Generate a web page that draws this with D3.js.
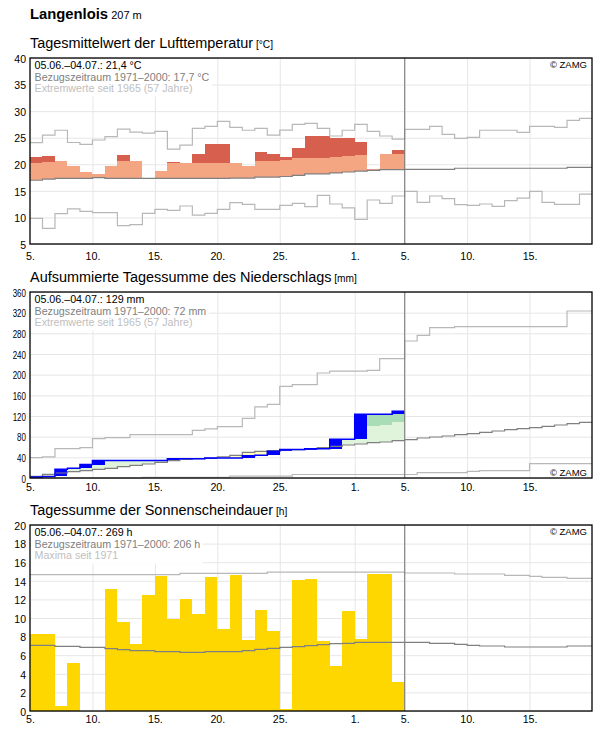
<!DOCTYPE html>
<html><head><meta charset="utf-8">
<script src="https://cdn.jsdelivr.net/npm/d3@7"></script>
<style>
body{margin:0;background:#fff}
svg{display:block}
text{font-family:"Liberation Sans",Arial,Helvetica,sans-serif}
.bars rect{shape-rendering:crispEdges}
</style>
</head><body>
<svg id="c" width="596" height="729"></svg>
<script>
// ---------------- DATA ----------------
const station = "Langenlois";
const altitude = "207 m";
const periodStart = "2021-06-05", periodEnd = "2021-07-20", todayDate = "2021-07-05";
const xTickDates = ["2021-06-05","2021-06-10","2021-06-15","2021-06-20","2021-06-25","2021-07-01","2021-07-05","2021-07-10","2021-07-15"];
const xTickLabels = ["5.","10.","15.","20.","25.","1.","5.","10.","15."];

// Temperature (°C)
const tempTicks = [5,10,15,20,25,30,35,40];
const tempMean = [17.0,17.2,17.35,17.35,17.35,17.5,17.35,17.35,17.35,17.35,17.35,17.35,17.35,17.35,17.35,17.35,17.4,17.4,17.6,17.6,17.7,17.9,18.2,18.2,18.4,18.55,18.7,18.85,19.0,19.0,19.05,19.05,19.05,19.05,19.25,19.25,19.25,19.25,19.25,19.25,19.25,19.25,19.25,19.4,19.4];
const tempMax = [24.06,25.5,26.4,24.1,23.76,24.57,25.2,26.6,26.07,25.85,26.2,22.85,23.6,26.77,27.15,28.08,26.96,26.4,26.75,25.48,26.42,27.5,27.7,26.77,25.32,26.4,27.5,26.2,25.32,24.73,26.58,26.58,27.14,25.64,24.89,25.07,26.4,26.4,26.4,26.02,27.14,27.14,26.96,28.27,28.65];
const tempMin = [9.83,7.95,10.7,11.6,11.15,10.9,10.9,8.45,8.64,10.77,11.5,11.34,12.15,10.45,10.77,11.5,12.77,12.47,11.5,11.5,12.27,12.65,12.03,14.16,12.53,11.78,9.64,13.28,12.65,14.03,14.9,12.84,14.03,13.53,12.4,12.27,12.53,12.09,13.15,13.65,14.9,12.84,12.47,12.47,14.4];
const tempObs = [21.3,21.5,20.7,19.7,18.6,18.2,19.6,21.8,20.7,null,18.8,20.5,20.3,22.0,23.9,23.9,20.3,19.6,22.4,21.9,21.4,23.1,25.4,25.4,25.0,25.0,24.1,19.1,22.0,22.7];
const tempLight = [20.3,20.5,20.7,19.7,18.6,18.2,19.6,20.7,20.7,null,18.8,20.3,20.3,20.3,20.3,20.3,20.3,19.6,20.6,20.7,20.9,21.1,21.2,21.2,21.4,21.6,21.8,19.1,22.0,22.0];

// Precipitation, accumulated (mm)
const precTicks = [0,40,80,120,160,200,240,280,320,360];
const precMean = [3.3,7.2,9.7,12.3,14.2,16.8,18.8,22,24.6,27.1,30.4,33.6,36.2,37.5,38.7,40.7,43.9,49.7,51.7,53,55,55,56.9,58.8,61.3,63.9,65.8,68.5,69.7,72.4,74.3,77.4,79.4,81.3,84,85.9,88.4,91,93.6,95.6,97.5,100,102.6,105.2,107.8];
const precMax = [39.4,40.7,56.9,56.9,58.8,76.2,78.2,78.2,84,84,84,84,84,92,95,99.5,99.5,115.5,137.5,142.6,177.5,180.8,180.8,203.2,207,207,207,208.4,231,231,265.2,276.2,291,291,293,293,293,293,293,293,293,293,293,323.2,323.2];
const precMin = [0,0,0,0,0,0,0,0,0,1.3,1.3,1.3,1.3,1.3,1.3,1.3,3.7,3.7,3.7,3.7,3.7,6.8,6.8,6.8,6.8,6.8,6.8,6.8,6.8,6.8,6.8,10.4,10.4,10.4,10.4,13,14.2,14.2,14.2,14.2,27.8,27.8,27.8,27.8,27.8];
const precObs = [2,3,17,19,26,34,34,34,34,34,34,37.5,37.5,37.5,38.5,38.5,38.5,43.3,43.8,51.7,55,55,56.5,56.5,75,75,123.3,123.3,123.3,129];
const precHigh = [null,null,null,null,null,null,null,null,null,null,null,null,null,null,null,null,null,null,null,null,null,null,null,null,null,null,99,100.6,102.6,107.8];

// Sunshine duration (h)
const sunTicks = [0,2,4,6,8,10,12,14,16,18,20];
const sunMean = [7.06,7.06,6.95,6.95,6.85,6.85,6.7,6.6,6.5,6.5,6.38,6.38,6.3,6.3,6.38,6.38,6.38,6.5,6.62,6.74,6.85,6.93,7.03,7.13,7.24,7.28,7.38,7.38,7.38,7.38,7.38,7.38,7.28,7.28,7.17,7.06,6.99,6.99,6.88,6.88,6.88,6.88,6.88,6.99,6.99];
const sunMax = [14.66,14.66,14.66,14.66,14.66,14.66,14.66,14.66,14.66,14.66,14.66,14.66,14.8,14.8,14.8,14.8,14.8,14.8,14.8,14.93,14.93,14.93,14.93,14.93,14.93,14.93,14.93,14.93,14.93,14.93,14.84,14.84,14.84,14.84,14.73,14.73,14.73,14.73,14.59,14.59,14.48,14.37,14.37,14.27,14.27];
const sunObs = [8.28,8.28,0.54,5.16,0,0,13.12,9.57,7.2,12.47,14.52,9.93,12.04,10.43,14.41,8.82,14.62,7.63,10.86,8.6,0.2,14.09,14.2,7.53,4.87,10.75,7.74,14.77,14.77,3.12];

const titles = [
  ["Tagesmittelwert der Lufttemperatur","[°C]"],
  ["Aufsummierte Tagessumme des Niederschlags","[mm]"],
  ["Tagessumme der Sonnenscheindauer","[h]"]
];
const legends = [
  ["05.06.–04.07.: 21,4 °C","Bezugszeitraum 1971–2000: 17,7 °C","Extremwerte seit 1965 (57 Jahre)"],
  ["05.06.–04.07.: 129 mm","Bezugszeitraum 1971–2000: 72 mm","Extremwerte seit 1965 (57 Jahre)"],
  ["05.06.–04.07.: 269 h","Bezugszeitraum 1971–2000: 206 h","Maxima seit 1971"]
];
const copyright = "© ZAMG";

// ---------------- DRAWING ----------------
const svg = d3.select("#c");
const X0 = 30, X1 = 592;
const parse = d3.utcParse("%Y-%m-%d");
const start = parse(periodStart);
const x = d3.scaleUtc().domain([start, parse(periodEnd)]).range([X0, X1]);
const day = i => d3.utcDay.offset(start, i);
const FONT_S = 10.7;

const C = {grid:"#e6e6e6", mean:"#808080", ext:"#b8b8b8", today:"#808080"};

// header
const hdr = svg.append("text").attr("x", 30).attr("y", 18.5);
hdr.append("tspan").attr("font-weight","bold").attr("font-size",14.8).text(station);
hdr.append("tspan").attr("font-size",11).text(" " + altitude);

function stepPath(y, vals) {
  const pts = vals.map((v,i)=>[i,v]);
  pts.push([vals.length, vals[vals.length-1]]);
  return d3.line().defined(d=>d[1]!=null).x(d=>x(day(d[0]))).y(d=>y(d[1])).curve(d3.curveStepAfter)(pts);
}
function barX(i){ return x(day(i)); }
function barW(i){ return x(day(i+1)) - x(day(i)); }

function panel(idx, top, bottom, domain, ticks, xPad, condensed, draw, copyBottom) {
  const g = svg.append("g");
  const y = d3.scaleLinear().domain(domain).range([bottom, top]);
  // title
  const t = g.append("text").attr("x", 30).attr("y", top - 10).attr("font-size", 14.45).attr("fill","#000");
  t.append("tspan").text(titles[idx][0]);
  t.append("tspan").attr("font-size", 10.2).text(" " + titles[idx][1]);
  // grid
  g.append("g").attr("transform",`translate(${X0},0)`)
    .call(d3.axisLeft(y).tickValues(ticks).tickSize(-(X1-X0)).tickFormat(""))
    .call(s=>{s.select(".domain").remove(); s.selectAll("line").attr("stroke",C.grid);});
  g.append("g").attr("transform",`translate(0,${top})`)
    .call(d3.axisBottom(x).tickValues(xTickDates.slice(1).map(parse)).tickSize(bottom-top).tickFormat(""))
    .call(s=>{s.select(".domain").remove(); s.selectAll("line").attr("stroke",C.grid);});
  // data
  draw(g, y);
  // today line
  const td = parse(todayDate);
  g.append("line").attr("x1",x(td)).attr("x2",x(td)).attr("y1",top).attr("y2",bottom)
    .attr("stroke",C.today).attr("stroke-width",1.1);
  // border
  g.append("rect").attr("x",X0).attr("y",top).attr("width",X1-X0).attr("height",bottom-top)
    .attr("fill","none").attr("stroke","#000").attr("stroke-width",1.3);
  // y axis labels
  const ya = g.append("g").attr("transform",`translate(${X0},0)`)
    .call(d3.axisLeft(y).tickValues(ticks).tickSize(0).tickPadding(4));
  ya.select(".domain").remove();
  ya.selectAll("text").attr("font-size",10.5).attr("font-family",null).attr("fill","#000").attr("dy","0.4em");
  if (condensed) ya.selectAll("text").attr("textLength", d=>String(d).length*4.45).attr("lengthAdjust","spacingAndGlyphs");
  // x axis labels
  const xa = g.append("g").attr("transform",`translate(0,${bottom})`)
    .call(d3.axisBottom(x).tickValues(xTickDates.map(parse)).tickSize(0).tickPadding(xPad).tickFormat((d,i)=>xTickLabels[i]));
  xa.select(".domain").remove();
  xa.selectAll("text").attr("font-size",FONT_S).attr("font-family",null).attr("fill","#000");
  // legend
  const lg = g.append("g");
  const cols = ["#000","#808080","#c0c0c0"];
  const lt = lg.selectAll("text").data(legends[idx]).join("text")
    .attr("x", X0+4.5).attr("y",(d,i)=>top+11.3+i*11.4).attr("font-size",FONT_S)
    .attr("fill",(d,i)=>cols[i]).text(d=>d);
  let w = 0; lt.each(function(){ w = Math.max(w, this.getComputedTextLength()); });
  lg.insert("rect","text").attr("x",X0+1).attr("y",top+1).attr("width",w+6).attr("height",37.5).attr("fill","#fff");
  // copyright
  g.append("text").attr("x",587).attr("y", copyBottom ? bottom-2.3 : top+10.3).attr("text-anchor","end")
    .attr("font-size",9.5).attr("fill","#000").text(copyright);
}

// Temperature panel
panel(0, 58, 244, [5,40], tempTicks, 8, false, (g,y)=>{
  const n = tempObs.length;
  const idx = d3.range(n).filter(i=>tempObs[i]!=null);
  const b = g.append("g").attr("class","bars");
  b.append("g").selectAll("rect").data(idx.filter(i=>tempLight[i]>tempMean[i])).join("rect")
    .attr("x",barX).attr("width",barW)
    .attr("y",i=>y(tempLight[i])).attr("height",i=>y(tempMean[i])-y(tempLight[i]))
    .attr("fill","#f4a582");
  b.append("g").selectAll("rect").data(idx.filter(i=>tempObs[i]>tempLight[i])).join("rect")
    .attr("x",barX).attr("width",barW)
    .attr("y",i=>y(tempObs[i])).attr("height",i=>y(tempLight[i])-y(tempObs[i]))
    .attr("fill","#d6604d");
  [[tempMax,C.ext],[tempMin,C.ext],[tempMean,C.mean]].forEach(([v,c])=>{
    g.append("path").attr("d",stepPath(y,v)).attr("fill","none").attr("stroke",c).attr("stroke-width",1.2);
  });
}, false);

// Precipitation panel
panel(1, 292, 478, [0,360], precTicks, 5.5, true, (g,y)=>{
  const n = precObs.length;
  const idx = d3.range(n);
  const b = g.append("g").attr("class","bars");
  b.append("g").selectAll("rect").data(idx).join("rect")
    .attr("x",barX).attr("width",barW)
    .attr("y",i=>y(Math.max(precObs[i],precMean[i])))
    .attr("height",i=>Math.abs(y(precObs[i])-y(precMean[i])))
    .attr("fill",i=>precObs[i]>=precMean[i] ? "#e0f3db" : "#ffffbf");
  b.append("g").selectAll("rect").data(idx.filter(i=>precHigh[i]!=null && precObs[i]>precHigh[i])).join("rect")
    .attr("x",barX).attr("width",barW)
    .attr("y",i=>y(precObs[i])).attr("height",i=>y(precHigh[i])-y(precObs[i]))
    .attr("fill","#a8ddb5");
  b.append("g").selectAll("rect").data(idx.filter(i=>precObs[i]>(i?precObs[i-1]:0))).join("rect")
    .attr("x",barX).attr("width",barW)
    .attr("y",i=>y(precObs[i])).attr("height",i=>y(i?precObs[i-1]:0)-y(precObs[i]))
    .attr("fill","#0000ff");
  [[precMax,C.ext],[precMin,C.ext],[precMean,C.mean]].forEach(([v,c])=>{
    g.append("path").attr("d",stepPath(y,v)).attr("fill","none").attr("stroke",c).attr("stroke-width",1.2);
  });
  g.append("path").attr("d",stepPath(y,precObs)).attr("fill","none").attr("stroke","#0000ff").attr("stroke-width",1.5);
}, true);

// Sunshine panel
panel(2, 525, 711, [0,20], sunTicks, 4.2, false, (g,y)=>{
  const idx = d3.range(sunObs.length).filter(i=>sunObs[i]>0);
  g.append("g").attr("class","bars").selectAll("rect").data(idx).join("rect")
    .attr("x",barX).attr("width",barW)
    .attr("y",i=>y(sunObs[i])).attr("height",i=>y(0)-y(sunObs[i]))
    .attr("fill","#ffd700");
  [[sunMax,C.ext],[sunMean,C.mean]].forEach(([v,c])=>{
    g.append("path").attr("d",stepPath(y,v)).attr("fill","none").attr("stroke",c).attr("stroke-width",1.2);
  });
}, false);
</script>
</body></html>
